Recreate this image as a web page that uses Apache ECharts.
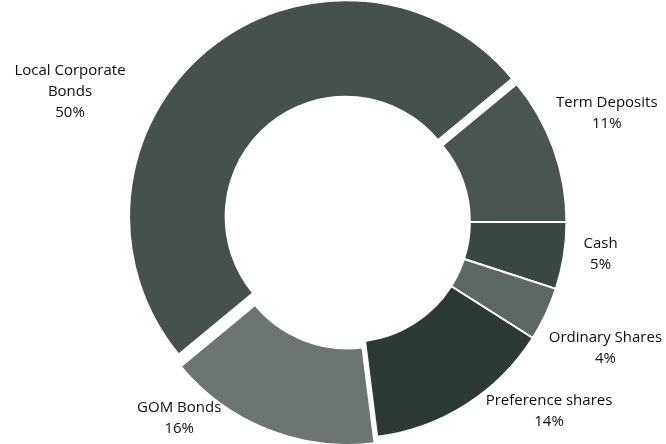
<!DOCTYPE html>
<html>
<head>
<meta charset="utf-8">
<script src="https://cdn.jsdelivr.net/npm/echarts@6/dist/echarts.min.js"></script>
<style>
  html, body { margin: 0; padding: 0; background: #fff; }
  #chart { width: 666px; height: 444px; }
</style>
</head>
<body>
<div id="chart"></div>
<script>
const categories = ['Term Deposits', 'Cash', 'Ordinary Shares', 'Preference shares', 'GOM Bonds', 'Local Corporate\nBonds']
const shares = [11, 5, 4, 14, 16, 50]
const sliceColors = ['#4a5551', '#3b4742', '#5d6864', '#2d3a34', '#6d7572', '#46514c']
const pulledOut = ['GOM Bonds', 'Local Corporate\nBonds']
// nudges from the default outside spot to where the labels sit in the picture
const labelNudge = [[4, -30], [-13, -4], [11, 28], [40, -6], [-48, -10], [-93, 53]]

const chart = echarts.init(document.getElementById('chart'))

chart.setOption({
  animation: false,
  series: [
    {
      type: 'pie',
      center: [350, 222],
      radius: ['54%', '97.5%'],
      startAngle: 90 - 50.4,
      clockwise: true,
      selectedMode: 'multiple',
      selectedOffset: 7,
      itemStyle: { borderColor: '#fff', borderWidth: 2 },
      label: {
        show: true,
        position: 'outside',
        formatter: '{b}\n{d}%',
        fontFamily: 'Open Sans',
        fontSize: 15,
        lineHeight: 21,
        color: '#0d0d0d',
        overflow: 'none',
      },
      labelLine: { show: false },
      labelLayout: (p) => ({
        align: 'center',
        verticalAlign: 'middle',
        dx: labelNudge[p.dataIndex][0],
        dy: labelNudge[p.dataIndex][1],
      }),
      data: categories.map((name, i) => ({
        name,
        value: shares[i],
        selected: pulledOut.includes(name),
        itemStyle: { color: sliceColors[i] },
      })),
    },
  ],
})
</script>
</body>
</html>
